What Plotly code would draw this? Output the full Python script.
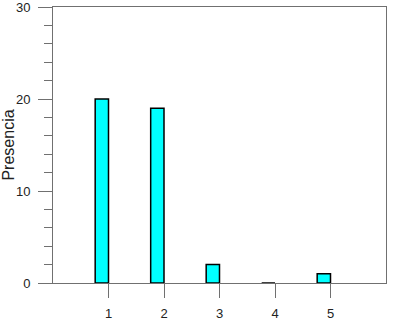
import plotly.graph_objects as go

categories = [1, 2, 3, 4, 5]
presencia = [20, 19, 2, 0, 1]
y_label = "Presencia"

fig = go.Figure()
fig.add_trace(go.Bar(
    x=categories, y=presencia,
    width=0.24, offset=-0.24,
    marker=dict(color="#00FFFF", line=dict(color="#000000", width=1.5)),
))

axis_color = "#707070"
fig.update_layout(
    width=400, height=320,
    margin=dict(l=53, r=14, t=7, b=37),
    paper_bgcolor="white", plot_bgcolor="white",
    showlegend=False,
    font=dict(family="Liberation Sans, Arial, sans-serif", size=13, color="#222222"),
    xaxis=dict(
        range=[0, 6], tickvals=categories, ticktext=[str(c) for c in categories],
        showgrid=False, zeroline=False, automargin=False,
        showline=True, mirror=True, linecolor=axis_color, linewidth=1,
        ticks="outside", ticklen=14, tickcolor=axis_color, tickwidth=1,
        ticklabelstandoff=4, ticklabeloverflow="allow",
    ),
    yaxis=dict(
        range=[0, 30], tickvals=[0, 10, 20, 30],
        showgrid=False, zeroline=False, automargin=False,
        showline=True, mirror=True, linecolor=axis_color, linewidth=1,
        ticks="outside", ticklen=14, tickcolor=axis_color, tickwidth=1,
        ticklabelstandoff=5, ticklabeloverflow="allow",
        minor=dict(dtick=2, ticks="outside", ticklen=8, tickcolor=axis_color, showgrid=False),
        title=dict(text=y_label, standoff=4),
    ),
)

fig.write_html("out.html")
